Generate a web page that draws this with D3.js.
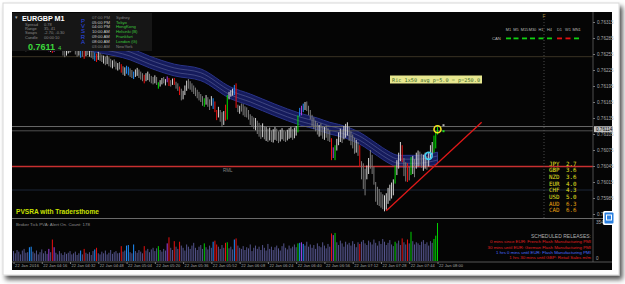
<!DOCTYPE html>
<html>
<head>
<meta charset="utf-8">
<script src="https://cdn.jsdelivr.net/npm/d3@7"></script>
<style>
body { margin: 0; background: #fff; }
svg text { font-family: "Liberation Sans", Arial, sans-serif; }
.mono { font-family: "DejaVu Sans Mono", "Liberation Mono", monospace !important; }
</style>
</head>
<body>
<svg id="chart"></svg>
<script>
// ---- data (prices in points above 0.76000, one bar per minute from 04:00) ----
const barStart = new Date(2016, 0, 22, 4, 0);
const highs = [278,276,272,275,280,278,274,270,273,276, 279,282,280,277,274,276,279,281,278,275,
  272,270,268,271,274,276,278,275,270,268, 266,270,274,277,279,276,272,268,266,264,
  262,265,268,266,263,260,258,256,259,257, 254,252,250,252,249,246,243,245,241,238,
  240,236,232,230,233,231,228,225,222,226, 229,226,222,219,216,219,222,218,214,212,
  215,212,202,206,210,212,208,213,210,206, 209,210,203,200,194,190,186,196,205,208,
  204,200,196,192,188,184,180,176,172,178, 174,170,176,172,166,150,156,150,146,148,
  160,178,184,187,190,197,200,160,158,162, 161,157,155,150,142,139,136,135,130,126,
  122,125,120,118,115,117,112,114,118,115, 110,113,116,112,110,113,116,118,114,117,
  120,140,154,158,162,165,166,158,150,141, 136,130,126,122,125,120,118,121,116,112,
  97,80,84,96,108,115,112,120,124,127, 118,110,104,98,94,90,84,54,50,40,
  46,60,75,66,44,15,6,2,-4,-8, -10,-6,4,10,14,20,46,56,70,90,
  84,60,52,50,44,62,64,58,70,74, 72,68,66,70,64,70,84,90,102,110, 118];
const lows = [266,264,262,265,268,266,263,260,262,265, 267,270,268,266,263,265,268,270,266,264,
  260,259,257,259,262,264,266,262,252,249, 252,256,258,260,262,254,250,252,248,250,
  246,251,253,250,248,245,242,240,244,242, 240,237,234,236,232,230,228,231,226,224,
  226,220,216,214,218,215,212,210,208,212, 214,210,207,204,200,204,206,203,200,198,
  200,197,190,194,198,200,196,202,195,194, 197,197,190,186,178,168,170,178,186,190,
  188,184,180,176,172,168,165,158,156,160, 156,150,158,152,146,131,136,128,118,122,
  130,132,170,175,177,178,154,146,143,147, 140,137,136,132,122,118,114,112,105,100,
  96,99,95,92,90,93,90,89,94,92, 88,91,95,92,90,93,96,98,94,97,
  102,108,138,140,146,150,148,140,132,120, 114,110,104,100,102,96,94,98,92,90,
  56,60,56,74,84,90,88,95,98,102, 92,84,78,68,70,64,43,20,2,-10,
  20,30,40,30,10,-22,-28,-30,-33,-36, -40,-37,-26,-20,-16,-10,12,28,40,54,
  52,26,16,15,18,28,30,24,40,44, 45,42,36,40,38,44,60,66,70,78, 104];
// w = bull, g = bear, G/R = climax up/down, B/V = rising volume up/down
const kinds = "wgwggwwgwB" + "Bwggwwgwgg" + "VwRVwwgwgg" + "wwwgwggwBg" + "RwgwggBRwg" +
  "gwgwggwggw" + "gRgwBBggBw" + "wgggRwwggg" + "wgGwwgwVRg" + "wRggRgwwwg" +
  "ggggggggGw" + "ggwBRRwggw" + "RGwwwBRgwg" + "gggggggwgg" + "gwgwgwgwwg" +
  "gwwggwwwgw" + "wGBVBwgggg" + "gggwggwggg" + "RVGwwwgwww" + "ggggwgRggg" +
  "wwgggggggg" + "wwwwwwGwww" + "RggRgGwgww" + "ggwwgwwwGG" + "G";
const volumes = [90,70,100,85,60,95,110,75,80,125, 130,85,70,95,60,80,105,70,90,65,
  110,80,195,125,75,60,90,70,55,80, 65,75,90,60,70,85,55,70,95,60,
  110,75,65,80,55,90,105,120,70,60, 85,70,95,60,75,100,65,80,90,70,
  75,135,85,95,140,145,80,70,150,90, 75,100,85,70,135,95,110,80,105,120,
  90,115,135,100,85,110,95,160,215,120, 100,180,130,110,175,140,120,95,150,130,
  110,140,165,120,100,130,145,110,160,125, 105,140,120,175,185,150,130,110,145,120,
  165,170,115,130,105,195,205,140,120,110, 135,100,125,115,150,90,120,140,110,130,
  100,145,120,95,155,110,130,100,125,140, 115,95,135,160,120,105,140,115,130,150,
  125,160,165,170,155,140,175,130,150,120, 145,110,160,135,125,170,140,115,155,130,
  250,235,255,170,145,185,160,130,175,150, 165,140,180,155,125,170,155,175,190,160,
  145,185,170,150,195,165,140,180,155,200, 175,145,165,190,150,135,175,160,185,145,
  205,170,150,195,160,265,180,150,170,160, 145,175,190,155,170,140,180,165,200,230, 345];

// moving-average channel (bar index -> centre, points)
const bandIdx = [0, 27, 49, 66, 77, 91, 106, 123, 134, 148, 162, 172, 179, 184, 196, 206, 212, 218, 229, 240];
const bandMid = [285, 278, 268, 255, 240, 225, 216, 182, 169, 150, 133, 124, 116, 112, 97, 75, 62, 54, 54, 60];
const bandHalf = 11;

const yTicks = [0.76315, 0.76285, 0.76255, 0.76225, 0.76195, 0.76165, 0.76135, 0.76105, 0.76075, 0.76045, 0.76015, 0.75985, 0.75955];
const xTickTimes = ["04:00","04:16","04:32","04:48","05:04","05:20","05:36","05:52","06:08","06:24","06:40","06:56","07:12","07:28","07:44","08:00"];
const bidPrice = 0.76114;
const bidLines = [0.76119, 0.76111];
const redLevel = 0.76044;
const brownLevel = 0.76250;
const blueLevel = 0.76000;
const trendLine = [[211, 0.75961], [265, 0.76127]];
const markerYellow = [240, 0.76114];
const markerCyan = [235, 0.76064];

const strengthCur = ["JPY","GBP","NZD","EUR","CHF","USD","AUD","CAD"];
const strengthVal = [2.7, 3.6, 3.6, 4.0, 4.3, 5.0, 6.3, 6.6];
const mtfLabels = ["M1","M5","M15","M30","H1","H4","D1","W1","MN1"];
const mtfUp = [true, true, true, true, true, true, false, false, true];

const statLabels = ["Spread","Range","Swaps","Candle"];
const statValues = ["0.78","35, 41","-2.70, -0.30","00:00:10"];
const sessionTimes = ["07:00 PM","05:00 PM","04:00 PM","10:00 AM","09:00 AM","08:00 AM","03:00 AM"];
const sessionCities = ["Sydney","Tokyo","HongKong","Helsinki  (B)","Frankfurt","London  (G)","NewYork"];
const sessionOpen = [false, true, true, true, true, true, false];

const releases = [
  ["0 mins since EUR: French Flash Manufacturing PMI", "#e02020"],
  ["30 mins until EUR: German Flash Manufacturing PMI", "#e02020"],
  ["1 hrs 0 mins until EUR: Flash Manufacturing PMI", "#4a6cff"],
  ["1 hrs 30 mins until GBP: Retail Sales m/m", "#e02020"]
];
const volMax = 354;

// ---- layout ----
const W = 625, H = 284;
const plot = { left: 12, right: 593, top: 13, bottom: 218 };
const sub = { top: 220, bottom: 261 };

const svg = d3.select("#chart").attr("width", W).attr("height", H);
const defs = svg.append("defs");
const sh = defs.append("filter").attr("id", "shadow").attr("x", "-5%").attr("y", "-5%").attr("width", "115%").attr("height", "120%");
sh.append("feDropShadow").attr("dx", 3).attr("dy", 4).attr("stdDeviation", 2.5).attr("flood-color", "#000").attr("flood-opacity", 0.7);
defs.append("clipPath").attr("id", "clipMain").append("rect")
  .attr("x", plot.left).attr("y", plot.top).attr("width", plot.right - plot.left).attr("height", plot.bottom - plot.top);

// card + black chart window
svg.append("rect").attr("x", 3).attr("y", 3).attr("width", 616).attr("height", 272)
  .attr("fill", "#fff").attr("stroke", "#d8d8d8").attr("filter", "url(#shadow)");
svg.append("rect").attr("x", 12).attr("y", 12).attr("width", 600).attr("height", 258).attr("fill", "#050505");

// scales
const toPrice = p => 0.76 + p / 100000;
const barTime = i => new Date(barStart.getTime() + i * 60000);
const x = d3.scaleTime()
  .domain([barStart, new Date(2016, 0, 22, 8, 0)])
  .range([13.5, 437.5]);
const y = d3.scaleLinear().domain([0.75955, 0.76315]).range([214, 22]);
const yVol = d3.scaleLinear().domain([0, volMax]).range([sub.bottom, sub.top + 2]);

const colorOf = {
  w: "#d4d4d4", g: "#7c7c7c", G: "#00e000", R: "#f01010", B: "#2090ff", V: "#b040e0"
};
const volColorOf = {
  w: "#53538a", g: "#53538a", G: "#00d000", R: "#e81010", B: "#2090ff", V: "#a040e0"
};

const main = svg.append("g").attr("clip-path", "url(#clipMain)");

// horizontal levels
function hline(price, color, width) {
  main.append("line").attr("x1", plot.left).attr("x2", plot.right)
    .attr("y1", y(price)).attr("y2", y(price))
    .attr("stroke", color).attr("stroke-width", width);
}
hline(brownLevel, "#3a3224", 1);
hline(blueLevel, "#1c2638", 1.2);

// MA channel
const bandData = bandIdx.map((b, k) => ({ t: barTime(b), m: toPrice(bandMid[k]) }));
const half = bandHalf / 100000;
main.append("path").datum(bandData)
  .attr("d", d3.area().curve(d3.curveMonotoneX).x(d => x(d.t)).y0(d => y(d.m - half)).y1(d => y(d.m + half)))
  .attr("fill", "#151b5c").attr("stroke", "#2a3488").attr("stroke-width", 1);
[-0.35, 0.35].forEach(f => {
  main.append("path").datum(bandData)
    .attr("d", d3.line().curve(d3.curveMonotoneX).x(d => x(d.t)).y(d => y(d.m + f * half)))
    .attr("fill", "none").attr("stroke", "#5c6398").attr("stroke-width", 0.6);
});

bidLines.forEach((p, k) => hline(p, k === 0 ? "#6a6a6a" : "#505050", 1));
hline(redLevel, "#c83030", 1.6);

// vertical dotted line
main.append("line").attr("x1", 544).attr("x2", 544).attr("y1", 16).attr("y2", plot.bottom)
  .attr("stroke", "#5a5a5a").attr("stroke-width", 0.8).attr("stroke-dasharray", "1,2");

// candles
main.selectAll("rect.bar").data(highs).enter().append("rect")
  .attr("class", "bar")
  .attr("x", (d, i) => x(barTime(i)) - 0.5)
  .attr("width", 1)
  .attr("y", d => y(toPrice(d)))
  .attr("height", (d, i) => Math.max(1, y(toPrice(lows[i])) - y(toPrice(d))))
  .attr("fill", (d, i) => colorOf[kinds[i]]);

// trend line
main.append("line")
  .attr("x1", x(barTime(trendLine[0][0]))).attr("y1", y(trendLine[0][1]))
  .attr("x2", x(barTime(trendLine[1][0]))).attr("y2", y(trendLine[1][1]))
  .attr("stroke", "#e01818").attr("stroke-width", 1.3);

// markers
main.append("circle").attr("cx", x(barTime(markerCyan[0]))).attr("cy", y(markerCyan[1])).attr("r", 3.5)
  .attr("fill", "none").attr("stroke", "#40d0f0").attr("stroke-width", 1.6);
main.append("circle").attr("cx", x(barTime(markerYellow[0]))).attr("cy", y(markerYellow[1])).attr("r", 3.5)
  .attr("fill", "none").attr("stroke", "#f0e020").attr("stroke-width", 1.6);
main.append("rect").attr("x", x(barTime(markerYellow[0])) + 5).attr("y", y(markerYellow[1]) - 5).attr("width", 2).attr("height", 2).attr("fill", "#b0b0b0");
main.append("rect").attr("x", x(barTime(markerYellow[0])) + 5).attr("y", y(markerYellow[1]) + 1).attr("width", 2).attr("height", 2).attr("fill", "#20e020");

// label box
svg.append("rect").attr("x", 390).attr("y", 75.5).attr("width", 92).attr("height", 8).attr("fill", "#e8e890");
svg.append("text").attr("class", "mono").attr("x", 392).attr("y", 81.6).attr("font-size", 5.2)
  .attr("textLength", 88).attr("fill", "#3a6a2a").text("Ric 1x50 avg p=5.0 = p=250.0");

svg.append("text").attr("x", 223).attr("y", 172).attr("font-size", 4.5).attr("fill", "#888").text("RML");

// MTF trend display
const mtfX = [506, 513.5, 522, 530, 538.5, 547, 557, 565.5, 574];
svg.selectAll("text.mtf").data(mtfLabels).enter().append("text")
  .attr("x", (d, i) => mtfX[i] + 2.5).attr("y", 31).attr("text-anchor", "middle")
  .attr("font-size", 3.9).attr("fill", "#b8b8b8").text(d => d);
svg.selectAll("rect.mtf").data(mtfUp).enter().append("rect")
  .attr("x", (d, i) => mtfX[i]).attr("y", 37.5).attr("width", 5).attr("height", 1.8)
  .attr("fill", d => d ? "#10d010" : "#e01010");
svg.append("text").attr("x", 492).attr("y", 40).attr("font-size", 4.2).attr("fill", "#b8b8b8").text("CAN");
svg.append("text").attr("x", 544).attr("y", 18).attr("text-anchor", "middle").attr("font-size", 5).attr("fill", "#a08840").text("F");

// currency strength
strengthCur.forEach((c, k) => {
  const col = k >= 6 ? "#e8a010" : "#e6e020";
  const yy = 165.5 + k * 6.7;
  svg.append("text").attr("class", "mono").attr("x", 549).attr("y", yy).attr("font-size", 5.8).attr("fill", col).text(c);
  svg.append("text").attr("class", "mono").attr("x", 566).attr("y", yy).attr("font-size", 5.8).attr("fill", col).text(strengthVal[k].toFixed(1));
});

// price axis
svg.append("line").attr("x1", plot.right).attr("x2", plot.right).attr("y1", 12).attr("y2", 262).attr("stroke", "#606060").attr("stroke-width", 0.8);
const yAxis = svg.append("g").attr("transform", `translate(${plot.right},0)`)
  .call(d3.axisRight(y).tickValues(yTicks).tickFormat(d3.format(".5f")).tickSize(2));
yAxis.select(".domain").remove();
yAxis.selectAll("line").attr("stroke", "#777");
yAxis.selectAll("text").attr("x", 4).attr("fill", "#a8a8a8").attr("font-size", 4.6);
svg.append("rect").attr("x", plot.right + 1).attr("y", y(bidPrice) - 3).attr("width", 19).attr("height", 6).attr("fill", "#c0c0c0");
svg.append("text").attr("x", plot.right + 3).attr("y", y(bidPrice) + 1.8).attr("font-size", 4.6).attr("fill", "#000").text(d3.format(".5f")(bidPrice));

// separator and sub-window
svg.append("line").attr("x1", 12).attr("x2", 612).attr("y1", plot.bottom + 0.5).attr("y2", plot.bottom + 0.5).attr("stroke", "#6a6a6a").attr("stroke-width", 1);
svg.append("line").attr("x1", 12).attr("x2", 612).attr("y1", sub.bottom + 1).attr("y2", sub.bottom + 1).attr("stroke", "#6a6a6a").attr("stroke-width", 0.8);
svg.append("text").attr("x", 16).attr("y", 214).attr("font-size", 6.6).attr("font-weight", "bold").attr("fill", "#c8e000").text("PVSRA with Tradersthome");
svg.append("text").attr("x", 16).attr("y", 225.5).attr("font-size", 4.4).attr("fill", "#909090").text("Broker Tick PVA:    Alert On.   Count: 178");

svg.selectAll("rect.vol").data(volumes).enter().append("rect")
  .attr("class", "vol")
  .attr("x", (d, i) => x(barTime(i)) - 0.5)
  .attr("width", 1)
  .attr("y", d => yVol(d))
  .attr("height", d => yVol(0) - yVol(d))
  .attr("fill", (d, i) => volColorOf[kinds[i]]);
svg.append("text").attr("x", 596).attr("y", 224).attr("font-size", 4.6).attr("fill", "#a8a8a8").text(volMax);
svg.append("text").attr("x", 596).attr("y", 259.5).attr("font-size", 4.6).attr("fill", "#a8a8a8").text("0");

// scheduled releases
svg.append("text").attr("x", 591).attr("y", 237.5).attr("text-anchor", "end").attr("font-size", 5).attr("fill", "#b0b0b0").text("SCHEDULED RELEASES:");
releases.forEach((r, k) => {
  svg.append("text").attr("x", 591).attr("y", 243.3 + k * 5.3).attr("text-anchor", "end")
    .attr("font-size", 4.4).attr("fill", r[1]).text(r[0]);
});

// time axis
const parseHM = d3.timeParse("%H:%M");
const tickDates = xTickTimes.map(t => { const p = parseHM(t); return new Date(2016, 0, 22, p.getHours(), p.getMinutes()); });
const xAxis = svg.append("g").attr("transform", `translate(0,${sub.bottom + 1})`)
  .call(d3.axisBottom(x).tickValues(tickDates).tickSize(2)
    .tickFormat((d, i) => "22 Jan " + (i === 0 ? "2016" : xTickTimes[i])));
xAxis.select(".domain").remove();
xAxis.selectAll("line").attr("stroke", "#777");
xAxis.selectAll("text").attr("text-anchor", "start").attr("x", 1).attr("y", 2.3)
  .attr("fill", "#a8a8a8").attr("font-size", 4).attr("textLength", 24);

// info panel
const panel = svg.append("g");
panel.append("rect").attr("x", 12).attr("y", 13).attr("width", 140).attr("height", 38).attr("fill", "#161616");
panel.append("text").attr("x", 15).attr("y", 19).attr("font-size", 5).attr("fill", "#aaa").text("▾");
panel.append("text").attr("x", 22).attr("y", 21).attr("font-size", 7.2).attr("font-weight", "bold").attr("fill", "#fff").text("EURGBP   M1");
statLabels.forEach((s, k) => {
  panel.append("text").attr("x", 25).attr("y", 25.6 + k * 4.3).attr("font-size", 4).attr("fill", "#8a8a8a").text(s);
  panel.append("text").attr("x", 44).attr("y", 25.6 + k * 4.3).attr("font-size", 4).attr("fill", "#8a8a8a").text(statValues[k]);
});
panel.append("text").attr("x", 28).attr("y", 49.5).attr("font-size", 9).attr("font-weight", "bold").attr("fill", "#3cd83c").text(d3.format(".4f")(bidPrice).slice(0, 6));
panel.append("text").attr("x", 58).attr("y", 49.5).attr("font-size", 6).attr("fill", "#3cd83c").text("4");
"PVSRA".split("").forEach((c, k) => {
  panel.append("text").attr("x", 83).attr("y", 22.5 + k * 5.4).attr("text-anchor", "middle")
    .attr("font-size", 6).attr("fill", "#2c4ce8").text(c);
});
sessionTimes.forEach((t, k) => {
  const yy = 18.6 + k * 4.9;
  panel.append("text").attr("x", 92).attr("y", yy).attr("font-size", 4.2)
    .attr("fill", sessionOpen[k] ? "#c8c8c8" : "#808080").text(t);
  panel.append("text").attr("x", 116).attr("y", yy).attr("font-size", 4.2)
    .attr("fill", sessionOpen[k] ? "#3cc83c" : "#808080").text(sessionCities[k]);
});

// terminal icon at the frame edge
svg.append("rect").attr("x", 603).attr("y", 211).attr("width", 12).attr("height", 14).attr("rx", 1.5)
  .attr("fill", "#fff");
svg.append("rect").attr("x", 604.5).attr("y", 212.5).attr("width", 9).attr("height", 11).attr("rx", 1)
  .attr("fill", "#2a80e0");
svg.append("rect").attr("x", 606.5).attr("y", 215).attr("width", 5).attr("height", 5).attr("fill", "none")
  .attr("stroke", "#fff").attr("stroke-width", 1);
</script>
</body>
</html>
